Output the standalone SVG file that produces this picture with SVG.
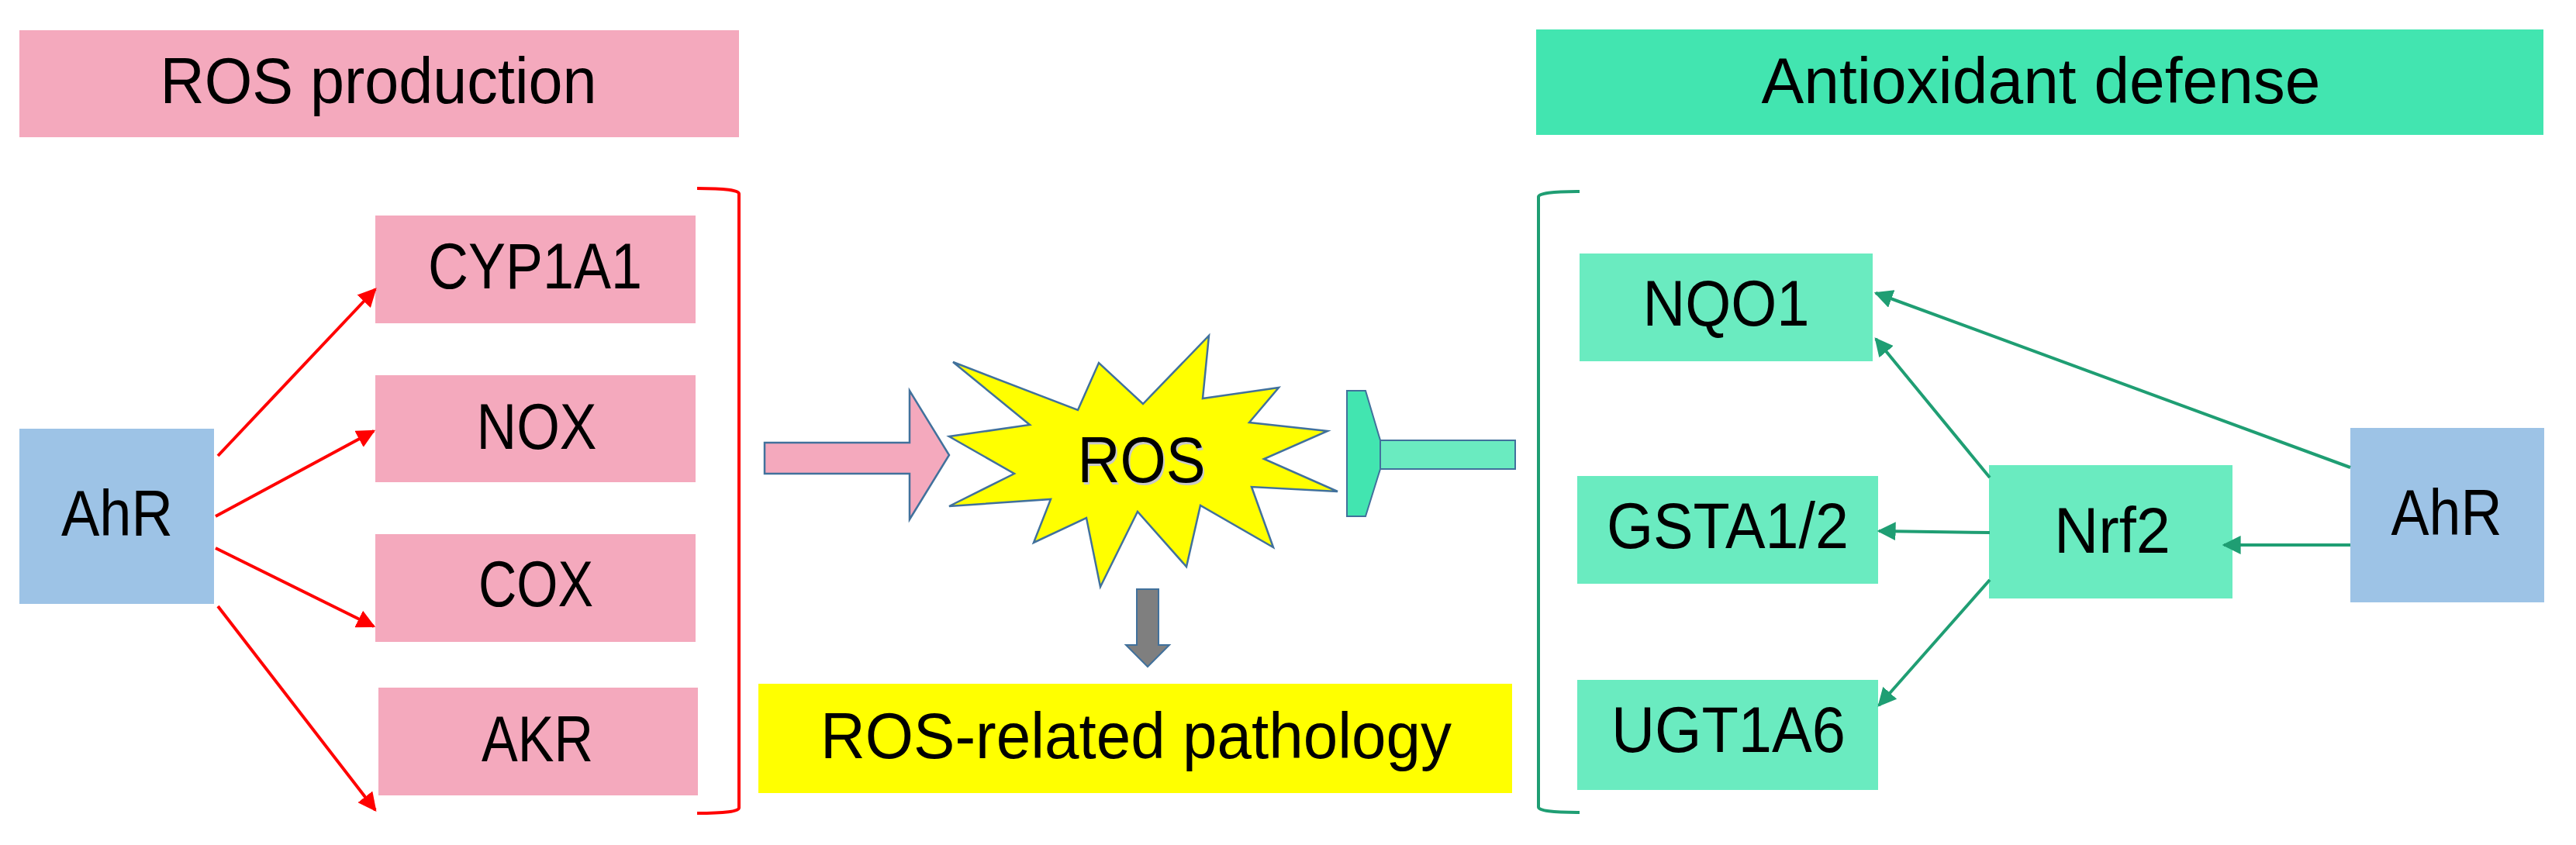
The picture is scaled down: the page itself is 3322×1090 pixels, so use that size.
<svg xmlns="http://www.w3.org/2000/svg" width="3322" height="1090" viewBox="0 0 3322 1090">
<style>
text{font-family:"Liberation Sans",Arial,sans-serif;font-size:84px;fill:#000;text-anchor:middle}
.pink{fill:#f4a9bd}.blue{fill:#9dc3e6}.teal{fill:#6aebc0}
.r{stroke:#ff0000;stroke-width:4;fill:none}
.g{stroke:#1f9e73;stroke-width:4;fill:none}
</style>
<defs>
<marker id="ar" viewBox="0 0 10 10" refX="9" refY="5" markerWidth="6" markerHeight="6" markerUnits="strokeWidth" orient="auto"><path d="M0,0L10,5L0,10z" fill="#ff0000"/></marker>
<marker id="ag" viewBox="0 0 10 10" refX="9" refY="5" markerWidth="6" markerHeight="6" markerUnits="strokeWidth" orient="auto"><path d="M0,0L10,5L0,10z" fill="#1f9e73"/></marker>
</defs>
<g id="ros-production"><rect class="pink" x="25" y="39" width="928" height="138"/><text x="488" y="133" textLength="563" lengthAdjust="spacingAndGlyphs">ROS production</text></g>
<g id="cyp1a1"><rect class="pink" x="484" y="278" width="413" height="139"/><text x="690" y="372" textLength="276" lengthAdjust="spacingAndGlyphs">CYP1A1</text></g>
<g id="nox"><rect class="pink" x="484" y="484" width="413" height="138"/><text x="692" y="579" textLength="155" lengthAdjust="spacingAndGlyphs">NOX</text></g>
<g id="cox"><rect class="pink" x="484" y="689" width="413" height="139"/><text x="691" y="782" textLength="148" lengthAdjust="spacingAndGlyphs">COX</text></g>
<g id="akr"><rect class="pink" x="488" y="887" width="412" height="139"/><text x="693" y="982" textLength="144" lengthAdjust="spacingAndGlyphs">AKR</text></g>
<g id="ahr-left"><rect class="blue" x="25" y="553" width="251" height="226"/><text x="151" y="691" textLength="144" lengthAdjust="spacingAndGlyphs">AhR</text></g>
<g id="ros-star"><polygon points="1229,467 1390,529 1417,468 1474,521 1559,433 1551,514 1649,500 1611,545 1712,556 1630,592 1725,634 1614,628 1642,706 1548,652 1530,731 1467,660 1419,757 1401,668 1333,700 1355,644 1224,653 1308,611 1224,563 1328,548" fill="#ffff00" stroke="#41719c" stroke-width="2.5"/><text x="1474" y="625" textLength="165" lengthAdjust="spacingAndGlyphs" style="fill:#c8c8c8">ROS</text><text x="1472" y="622" textLength="165" lengthAdjust="spacingAndGlyphs">ROS</text></g>
<g id="pathology"><rect x="978" y="882" width="972" height="141" fill="#ffff00"/><text x="1465" y="978" textLength="814" lengthAdjust="spacingAndGlyphs">ROS-related pathology</text></g>
<g id="antioxidant-defense"><rect x="1981" y="38" width="1299" height="136" fill="#42e5b0"/><text x="2632" y="133" textLength="721" lengthAdjust="spacingAndGlyphs">Antioxidant defense</text></g>
<g id="nqo1"><rect class="teal" x="2037" y="327" width="378" height="139"/><text x="2226" y="420" textLength="215" lengthAdjust="spacingAndGlyphs">NQO1</text></g>
<g id="gsta"><rect class="teal" x="2034" y="614" width="388" height="139"/><text x="2228" y="707" textLength="312" lengthAdjust="spacingAndGlyphs">GSTA1/2</text></g>
<g id="ugt1a6"><rect class="teal" x="2034" y="877" width="388" height="142"/><text x="2229" y="970" textLength="302" lengthAdjust="spacingAndGlyphs">UGT1A6</text></g>
<g id="nrf2"><rect class="teal" x="2565" y="600" width="314" height="172"/><text x="2724" y="713" textLength="150" lengthAdjust="spacingAndGlyphs">Nrf2</text></g>
<g id="ahr-right"><rect class="blue" x="3031" y="552" width="250" height="225"/><text x="3155" y="690" textLength="143" lengthAdjust="spacingAndGlyphs">AhR</text></g>
<g id="connectors">
<line class="r" x1="281" y1="588" x2="484" y2="373" marker-end="url(#ar)"/>
<line class="r" x1="278" y1="666" x2="482" y2="556" marker-end="url(#ar)"/>
<line class="r" x1="278" y1="707" x2="482" y2="808" marker-end="url(#ar)"/>
<line class="r" x1="281" y1="782" x2="484" y2="1045" marker-end="url(#ar)"/>
<path class="r" d="M899,243 Q953,243 953,250 L953,1042 Q953,1049 899,1049"/>
<path class="g" d="M2037,247 Q1984,247 1984,254 L1984,1041 Q1984,1048 2037,1048"/>
<line class="g" x1="3031" y1="603" x2="2419" y2="378" marker-end="url(#ag)"/>
<line class="g" x1="2566" y1="616" x2="2419" y2="437" marker-end="url(#ag)"/>
<line class="g" x1="2566" y1="687" x2="2423" y2="685" marker-end="url(#ag)"/>
<line class="g" x1="2566" y1="748" x2="2423" y2="910" marker-end="url(#ag)"/>
<line class="g" x1="3031" y1="703" x2="2868" y2="703" marker-end="url(#ag)"/>
<polygon points="986,571 1173,571 1173,504 1224,587 1173,670 1173,611 986,611" fill="#f4a9bd" stroke="#41719c" stroke-width="2.5"/>
<polygon points="1780,568 1954,568 1954,605 1780,605" fill="#6aebc0" stroke="#41719c" stroke-width="2"/>
<polygon points="1737,504 1761,504 1780,568 1780,605 1761,666 1737,666" fill="#42e5b0" stroke="#41719c" stroke-width="2"/>
<polygon points="1466,760 1494,760 1494,832 1508,832 1480,860 1452,832 1466,832" fill="#7f7f7f" stroke="#41719c" stroke-width="2"/>
</g>
</svg>
